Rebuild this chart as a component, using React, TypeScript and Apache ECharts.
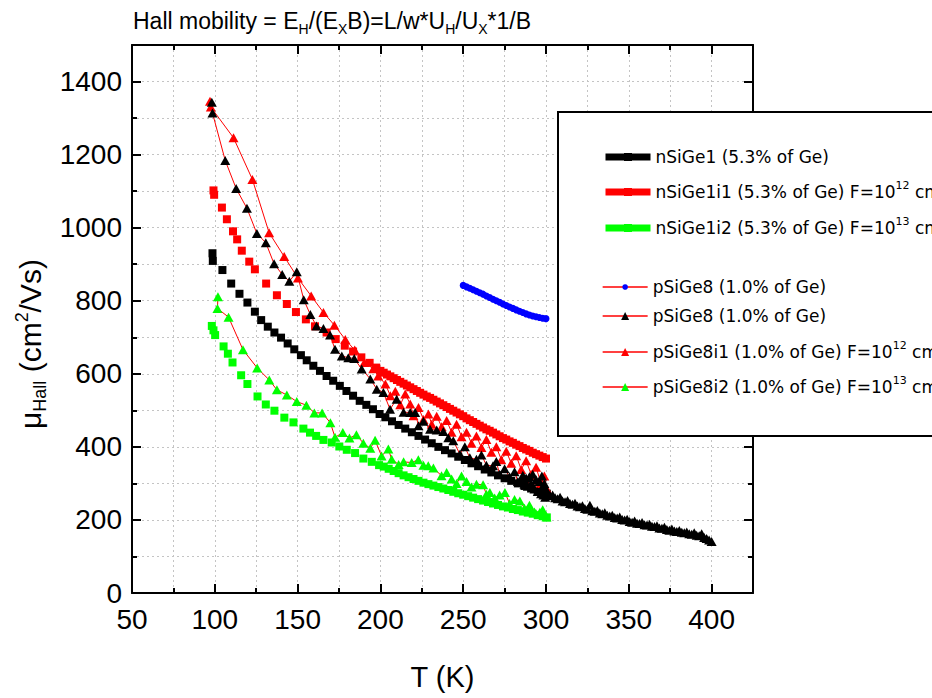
import React, { useEffect, useRef } from "react";
import * as echarts from "echarts";

// ---------- data (T in K, mobility in cm^2/Vs) ----------
const nSiGe1: number[][] = [
  [98.6, 930], [98.8, 909], [104.6, 884], [109.9, 847], [114.9, 819], [119.7, 795], [124.2, 770], [128, 747],
  [132, 729], [136, 713], [140, 699], [144, 683], [148, 667], [152, 651], [155.5, 637], [159.5, 622],
  [163.5, 608], [167.5, 594], [171.5, 581], [175.5, 567], [179.5, 553], [183.5, 540], [187.5, 526],
  [191.5, 515], [195.5, 503], [199.5, 490], [203, 481], [207, 470], [211, 460], [215, 450], [219, 440],
  [223, 430], [227, 420], [231, 410], [235, 400], [239, 391], [243, 382], [247, 373], [251, 364],
  [255, 355], [259, 347], [263, 338], [267, 330], [271, 322], [275, 314], [279, 307], [283, 300],
  [287, 293], [291, 286], [295, 280], [299, 274], [300.5, 272],
];

const nSiGe1i1: number[][] = [
  [99.2, 1102], [99.6, 1090], [104.3, 1055], [107.3, 1023], [111, 990], [113.5, 968], [116.3, 937],
  [120.8, 907], [124.2, 886], [131, 847], [137.5, 815], [143.5, 791], [149, 769], [155, 749], [160.5, 730],
  [167.5, 713], [173, 695], [178.5, 677], [183.5, 661], [188.5, 645], [193.5, 630], [197.5, 617],
  [200, 608], [202, 603], [204, 598], [206, 593], [208, 588], [210, 583], [212, 578], [214, 573],
  [216, 568], [218, 563], [220, 558], [222, 553], [224, 548], [226, 543], [228, 538], [230, 534],
  [232, 529], [234, 524], [236, 519], [238, 514], [240, 509], [242, 504], [244, 499], [246, 494],
  [248, 489], [250, 484], [252, 478], [254, 473], [256, 468], [258, 463], [260, 458], [262, 453],
  [264, 448], [266, 444], [268, 439], [270, 434], [272, 429], [274, 424], [276, 420], [278, 415],
  [280, 411], [282, 406], [284, 402], [286, 397], [288, 393], [290, 389], [292, 384], [294, 380],
  [296, 376], [298, 372], [300, 368],
];

const nSiGe1i2: number[][] = [
  [98.2, 731], [99.2, 719], [100.2, 706], [105.3, 675], [107.9, 655], [110.7, 631], [115.9, 596],
  [119.7, 572], [125.8, 538], [130.8, 516], [136, 499], [142, 480], [147.5, 467], [153.5, 450],
  [157.5, 439], [161.2, 430], [165.6, 419], [170.6, 412], [175.2, 401], [179.7, 392], [184.7, 383],
  [189.7, 368], [194.8, 359], [199.2, 350], [202, 346], [205, 340], [208, 334], [211, 328], [214, 322],
  [217, 317], [220, 312], [223, 307], [226, 302], [229, 298], [232, 294], [235, 290], [238, 286],
  [241, 282], [244, 277], [247, 273], [250, 269], [253, 265], [256, 261], [259, 257], [262, 253],
  [265, 249], [268, 245], [271, 241], [274, 237], [277, 234], [280, 230], [283, 227], [286, 223],
  [289, 220], [292, 217], [295, 213], [298, 210], [300.5, 207],
];

const pSiGe8Blue: number[][] = [
  [250, 842], [252, 838], [254, 834], [256, 830], [258, 826], [260, 822], [262, 818], [264, 813],
  [266, 809], [268, 804], [270, 800], [272, 796], [274, 791], [276, 787], [278, 783], [280, 779],
  [282, 775], [284, 771], [286, 768], [288, 764], [290, 761], [292, 758], [294, 756], [296, 754],
  [298, 752], [300, 751],
];

const pSiGe8Tri: number[][] = [
  [98.2, 1343], [98.6, 1314], [106.3, 1184], [112.9, 1107], [119.4, 1053], [125.4, 984], [130.8, 959],
  [135.8, 901], [140.7, 872], [145, 853], [149.5, 879], [153.7, 803], [157.7, 762], [161.4, 731],
  [165.6, 724], [169.6, 706], [172.6, 667], [176.7, 649], [180.6, 644], [184.2, 642], [188.7, 613],
  [193.9, 586], [197.8, 558], [201.8, 549], [205.8, 503], [209.8, 530], [214, 495], [218, 494],
  [221, 494], [223, 458], [226, 470], [230, 448], [234, 446], [238, 442], [241, 425], [244, 417],
  [248, 380], [251, 400], [254, 370], [258, 366], [261, 378], [264, 350], [268, 348], [270, 360],
  [272, 325], [275, 340], [278, 318], [281, 332], [283, 305], [285, 310], [286, 322], [287, 298],
  [288, 315], [289, 292], [290, 318], [291, 300], [292, 325], [293, 285], [294, 310], [295, 278],
  [296, 305], [297, 272], [297.5, 320], [298, 290], [298.5, 268], [299, 300], [299.5, 262], [300, 285],
  [300.5, 275], [301, 270], [302.5, 266], [304, 268], [305.5, 261], [307, 258], [308.5, 262], [310, 252],
  [311.5, 250], [313, 253], [314.5, 245], [316, 243], [317.5, 246], [319, 238], [320.5, 236], [322, 239],
  [323.5, 231], [325, 229], [326.5, 240], [328, 225], [329.5, 224], [331, 226], [332.5, 219], [334, 217],
  [335.5, 220], [337, 213], [338.5, 211], [340, 213], [341.5, 207], [343, 205], [344.5, 208], [346, 201],
  [347.5, 200], [349, 202], [350.5, 196], [352, 194], [353.5, 197], [355, 191], [356.5, 190], [358, 193],
  [359.5, 187], [361, 186], [362.5, 188], [364, 183], [365.5, 182], [367, 184], [368.5, 178], [370, 177],
  [371.5, 180], [373, 174], [374.5, 172], [376, 175], [377.5, 170], [379, 168], [380.5, 171], [382, 166],
  [383.5, 165], [385, 167], [386.5, 162], [388, 161], [389.5, 165], [391, 158], [392.5, 157], [394, 162],
  [395.5, 152], [397, 149], [398.5, 145], [400, 141],
];

const pSiGe8i1: number[][] = [
  [97.1, 1346], [97.6, 1330], [111.3, 1246], [122.7, 1132], [132.8, 986], [141.9, 921], [150.2, 862],
  [158.2, 813], [165.6, 768], [172.2, 733], [178.8, 694], [184.5, 665], [190.3, 631], [195.7, 614],
  [198.7, 594], [203, 572], [206, 540], [209, 552], [212, 515], [215, 545], [218, 517], [220, 485],
  [223, 508], [226, 475], [229, 490], [231, 462], [234, 484], [237, 455], [240, 472], [243, 440],
  [246, 462], [249, 428], [252, 440], [255, 410], [258, 430], [261, 398], [264, 420], [267, 385],
  [270, 400], [273, 365], [276, 388], [279, 355], [282, 376], [285, 338], [288, 362], [291, 325],
  [294, 344], [297, 300], [299, 320], [300.5, 285],
];

const pSiGe8i2: number[][] = [
  [101.9, 811], [101.6, 779], [108.3, 755], [117, 666], [125.6, 616], [132.9, 583], [137.5, 556],
  [143.5, 542], [149.5, 524], [155.3, 514], [160.1, 493], [164.8, 493], [169.8, 466], [172.6, 426],
  [177.3, 439], [181.3, 424], [185.5, 433], [189.7, 410], [193.9, 396], [196.8, 418], [200.7, 375],
  [204.8, 394], [206.8, 366], [211, 352], [214, 359], [218.9, 357], [222.9, 365], [226, 350],
  [228.9, 348], [232, 342], [236.9, 321], [240, 330], [243, 312], [246, 300], [249, 320], [252, 305],
  [255, 290], [258, 298], [262, 296], [264, 270], [266.1, 275], [269, 260], [272, 268], [275.2, 275],
  [278, 245], [281, 256], [284.2, 252], [287, 232], [290, 240], [293, 222], [296.3, 221], [298, 228],
  [300.3, 208],
];

// axis ranges / tick steps
const X_RANGE = [50, 425];
const Y_RANGE = [0, 1500];
const X_MAJOR = 50;
const X_MINOR = 25;
const Y_MAJOR = 200;
const Y_MINOR = 100;

// legend rows (display text)
const legendText = [
  "nSiGe1 (5.3% of Ge)",
  "nSiGe1i1 (5.3% of Ge) F=10{sup|12} cm{sup|-2}",
  "nSiGe1i2 (5.3% of Ge) F=10{sup|13} cm{sup|-2}",
  "pSiGe8 (1.0% of Ge)",
  "pSiGe8 (1.0% of Ge)",
  "pSiGe8i1 (1.0% of Ge) F=10{sup|12} cm{sup|-2}",
  "pSiGe8i2 (1.0% of Ge) F=10{sup|13} cm{sup|-2}",
];

const SANS = '"Liberation Sans", Arial, sans-serif';
const LEG = '"DejaVu Sans", Verdana, sans-serif';

const GRID = { left: 132, top: 45, right: 179, bottom: 104 };
const DOT = { color: "#c4c4c4", width: 1, type: [2, 3] as any };

function buildOption() {
  const mk = (
    name: string,
    data: number[][],
    symbol: string,
    size: any,
    color: string,
    lineColor: string | null
  ) => ({
    type: "line",
    name,
    data,
    symbol,
    symbolSize: size,
    showSymbol: true,
    showAllSymbol: true,
    xAxisIndex: 0,
    yAxisIndex: 0,
    silent: true,
    z: 2,
    itemStyle: { color },
    lineStyle: lineColor ? { color: lineColor, width: 1 } : { color, width: 0, opacity: 0 },
    emphasis: { disabled: true },
  });

  const TRI = [10, 9];
  const series = [
    mk("nSiGe1", nSiGe1, "rect", 8, "#000000", null),
    mk("nSiGe1i1", nSiGe1i1, "rect", 8, "#ff0000", null),
    mk("nSiGe1i2", nSiGe1i2, "rect", 8, "#00ff00", null),
    mk("pSiGe8i2", pSiGe8i2, "triangle", TRI, "#00ff00", "#ff0000"),
    mk("pSiGe8i1", pSiGe8i1, "triangle", TRI, "#ff0000", "#ff0000"),
    mk("pSiGe8blue", pSiGe8Blue, "circle", 7, "#0000ff", "#ff0000"),
    mk("pSiGe8tri", pSiGe8Tri, "triangle", TRI, "#000000", "#ff0000"),
  ];

  const legendNames = ["nSiGe1", "nSiGe1i1", "nSiGe1i2", "pSiGe8blue", "pSiGe8tri", "pSiGe8i1", "pSiGe8i2"];
  const legendCenters = [157, 192, 228, 287, 316, 352, 387];
  const legendLine = [
    { color: "#000000", width: 7 },
    { color: "#ff0000", width: 7 },
    { color: "#00ff00", width: 7 },
    { color: "#ff0000", width: 1.3 },
    { color: "#ff0000", width: 1.3 },
    { color: "#ff0000", width: 1.3 },
    { color: "#ff0000", width: 1.3 },
  ];
  const legendItemH = [10, 10, 10, 7, 10, 10, 10];

  const legend = legendNames.map((n, i) => ({
    show: true,
    data: [n],
    orient: "vertical",
    left: 602,
    top: legendCenters[i] - 12,
    padding: 0,
    itemWidth: 45,
    itemHeight: legendItemH[i],
    selectedMode: false,
    z: 6,
    lineStyle: { ...legendLine[i], opacity: 1 },
    itemStyle: { opacity: 1 },
    formatter: () => legendText[i],
    textStyle: {
      fontFamily: LEG,
      fontSize: 17,
      color: "#000",
      lineHeight: 24,
      rich: {
        sup: { fontFamily: LEG, fontSize: 11, lineHeight: 12, verticalAlign: "top", color: "#000" },
      },
    },
  }));

  const tickStyle = { color: "#000", width: 2 };
  const lineStyle = { color: "#000", width: 2 };
  const labelFmt = (v: number) => String(v);

  const xBase = { type: "value", min: X_RANGE[0], max: X_RANGE[1], gridIndex: 0, silent: true };
  const yBase = { type: "value", min: Y_RANGE[0], max: Y_RANGE[1], gridIndex: 0, silent: true };

  const xAxis = [
    {
      ...xBase,
      position: "bottom",
      interval: X_MAJOR,
      z: 4,
      axisLine: { show: true, onZero: false, lineStyle },
      axisTick: { show: true, inside: true, length: 9, lineStyle: tickStyle },
      axisLabel: {
        show: true, fontFamily: SANS, fontSize: 28, color: "#000", margin: 12,
        showMaxLabel: false, formatter: labelFmt,
      },
      splitLine: { show: false },
      name: "T (K)",
      nameLocation: "middle",
      nameGap: 68,
      nameTextStyle: { fontFamily: SANS, fontSize: 29, color: "#000", lineHeight: 32 },
    },
    {
      ...xBase,
      position: "bottom",
      interval: X_MINOR,
      z: 1,
      axisLine: { show: false, onZero: false },
      axisTick: { show: true, inside: true, length: 5, lineStyle: tickStyle },
      axisLabel: { show: false },
      splitLine: { show: true, lineStyle: DOT },
    },
    {
      ...xBase,
      position: "top",
      interval: X_MAJOR,
      z: 4,
      axisLine: { show: true, onZero: false, lineStyle },
      axisTick: { show: true, inside: true, length: 9, lineStyle: tickStyle },
      axisLabel: { show: false },
      splitLine: { show: false },
    },
    {
      ...xBase,
      position: "top",
      interval: X_MINOR,
      z: 1,
      axisLine: { show: false, onZero: false },
      axisTick: { show: true, inside: true, length: 5, lineStyle: tickStyle },
      axisLabel: { show: false },
      splitLine: { show: false },
    },
  ];

  const yAxis = [
    {
      ...yBase,
      position: "left",
      interval: Y_MAJOR,
      z: 4,
      axisLine: { show: true, onZero: false, lineStyle },
      axisTick: { show: true, inside: true, length: 9, lineStyle: tickStyle },
      axisLabel: {
        show: true, fontFamily: SANS, fontSize: 28, color: "#000", margin: 10,
        showMaxLabel: false, formatter: labelFmt,
      },
      splitLine: { show: false },
      name: "\u03bc{sub|Hall} (cm{sup|2}/Vs)",
      nameLocation: "middle",
      nameRotate: 90,
      nameGap: 76,
      nameTextStyle: {
        fontFamily: SANS,
        fontSize: 30,
        color: "#000",
        lineHeight: 36,
        padding: [0, 50, 0, 0],
        rich: {
          sub: { fontFamily: SANS, fontSize: 18, lineHeight: 14, verticalAlign: "bottom", color: "#000" },
          sup: { fontFamily: SANS, fontSize: 18, lineHeight: 14, verticalAlign: "top", color: "#000" },
        },
      },
    },
    {
      ...yBase,
      position: "left",
      interval: Y_MINOR,
      z: 1,
      axisLine: { show: false, onZero: false },
      axisTick: { show: true, inside: true, length: 5, lineStyle: tickStyle },
      axisLabel: { show: false },
      splitLine: { show: true, lineStyle: DOT },
    },
    {
      ...yBase,
      position: "right",
      interval: Y_MAJOR,
      z: 4,
      axisLine: { show: true, onZero: false, lineStyle },
      axisTick: { show: true, inside: true, length: 9, lineStyle: tickStyle },
      axisLabel: { show: false },
      splitLine: { show: false },
    },
    {
      ...yBase,
      position: "right",
      interval: Y_MINOR,
      z: 1,
      axisLine: { show: false, onZero: false },
      axisTick: { show: true, inside: true, length: 5, lineStyle: tickStyle },
      axisLabel: { show: false },
      splitLine: { show: false },
    },
  ];

  return {
    animation: false,
    backgroundColor: "#ffffff",
    title: {
      text: "Hall mobility = E{sub|H}/(E{sub|X}B)=L/w*U{sub|H}/U{sub|X}*1/B",
      left: 133,
      top: 6,
      padding: 0,
      textStyle: {
        fontFamily: SANS,
        fontSize: 23,
        fontWeight: "normal",
        color: "#000",
        lineHeight: 30,
        rich: {
          sub: { fontFamily: SANS, fontSize: 14, lineHeight: 12, verticalAlign: "bottom", color: "#000" },
        },
      },
    },
    grid: { ...GRID, containLabel: false },
    xAxis,
    yAxis,
    legend,
    graphic: [
      {
        type: "rect",
        x: 558,
        y: 112,
        z: 5,
        silent: true,
        shape: { x: 0, y: 0, width: 420, height: 324 },
        style: { fill: "#ffffff", stroke: "#000000", lineWidth: 2 },
      },
    ],
    series,
  };
}

export default function App() {
  const ref = useRef<HTMLDivElement>(null);
  useEffect(() => {
    document.body.style.margin = "0";
    const chart = echarts.init(ref.current!, null, { renderer: "svg" });
    chart.setOption(buildOption() as any);
    return () => chart.dispose();
  }, []);
  return <div ref={ref} style={{ width: 932, height: 698, background: "#fff" }} />;
}
